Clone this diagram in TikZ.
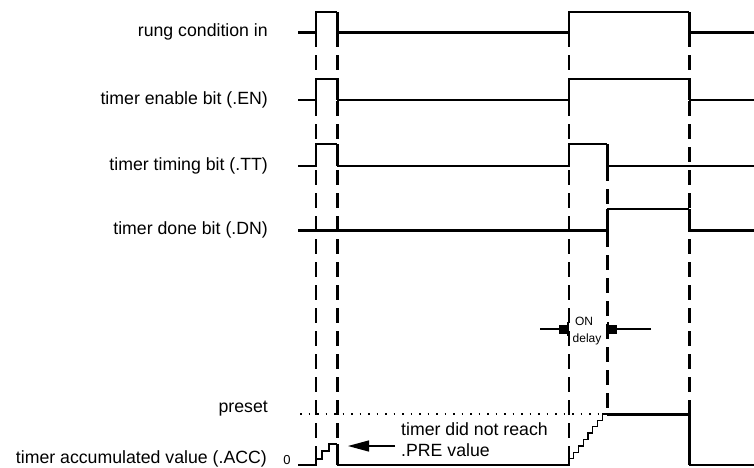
\documentclass[tikz,border=0pt]{standalone}
\usepackage{fontspec}
\setmainfont{Liberation Sans}
\usetikzlibrary{arrows.meta}
\begin{document}
\begin{tikzpicture}[x=1pt,y=-1pt,
  thinsig/.style={line width=1.3pt},
  thicksig/.style={line width=3pt},
  lbl/.style={anchor=base east, inner sep=0pt, font=\fontsize{17.7}{20}\selectfont},
  msg/.style={anchor=base west, inner sep=0pt, font=\fontsize{17.7}{20}\selectfont},
  small/.style={anchor=base, inner sep=0pt, font=\fontsize{12}{13}\selectfont},
  thindash/.style={line width=1.3pt, dash pattern=on 15pt off 8pt},
  thickdash/.style={line width=3pt, dash pattern=on 15pt off 8pt},
  ontip/.style={thinsig, -{Rectangle[length=8pt,width=9pt] Bar[width=14pt,line width=2pt]}},
]
\useasboundingbox[fill=white] (0,0) rectangle (754,467);

% labels
\node[lbl] (rung) at (268,36.5) {rung condition in};
\node[lbl] (en) at (268,104.5) {timer enable bit (.EN)};
\node[lbl] (tt) at (268,170.5) {timer timing bit (.TT)};
\node[lbl] (dn) at (268,234.5) {timer done bit (.DN)};
\node[lbl] (pre) at (268,412) {preset};
\node[lbl] (acc) at (267,463) {timer accumulated value (.ACC)};
\node[small, font=\fontsize{13}{14}\selectfont] (zero) at (287,464) {0};

% rung condition in
\draw[thicksig] (298,32) -- (316,32);
\draw[thinsig] (316,32) -- (316,12) -- (337,12);
\draw[thicksig] (337,12) -- (337,32) -- (569,32);
\draw[thinsig] (569,32) -- (569,12) -- (689,12);
\draw[thicksig] (689,12) -- (689,32) -- (754,32);

% enable
\draw[thinsig] (298,100) -- (316,100) -- (316,79) -- (337,79);
\draw[thicksig] (337,79) -- (337,100);
\draw[thinsig] (337,100) -- (569,100) -- (569,79) -- (689,79);
\draw[thicksig] (689,79) -- (689,100);
\draw[thinsig] (689,100) -- (754,100);

% timing
\draw[thinsig] (298,166) -- (316,166) -- (316,144) -- (337,144);
\draw[thicksig] (337,144) -- (337,166);
\draw[thinsig] (337,166) -- (569,166) -- (569,144) -- (607,144);
\draw[thicksig] (607,144) -- (607,166);
\draw[thinsig] (607,166) -- (754,166);

% done
\draw[thicksig] (298,230) -- (607,230);
\draw[thicksig] (607,231.5) -- (607,209);
\draw[thinsig] (607,209) -- (689,209);
\draw[thicksig] (689,209) -- (689,230) -- (754,230);

% dashed verticals
\draw[thindash] (316,32) -- (316,459);
\draw[thickdash] (337,32) -- (337,444);
\draw[thindash] (569,32) -- (569,465);
\draw[thickdash] (607,166) -- (607,209);
\draw[thickdash] (607,232) -- (607,414);
\draw[thickdash] (689,32) -- (689,414);

% preset dotted
\draw[line width=1.2pt, dash pattern=on 1.5pt off 7pt] (300,414) -- (602,414);

% accumulated value
\draw[thinsig] (298,465) -- (316,465) -- (316,459) -- (322,459) -- (322,451) -- (329,451) -- (329,444) -- (337,444);
\draw[thicksig] (337,444) -- (337,465);
\draw[thinsig] (337,465) -- (569,465) -- (569,458.6) -- (573.75,458.6) -- (573.75,452.25) -- (578.5,452.25) -- (578.5,445.9) -- (583.25,445.9) -- (583.25,439.5) -- (588,439.5) -- (588,433.1) -- (592.75,433.1) -- (592.75,426.75) -- (597.5,426.75) -- (597.5,420.4) -- (602.25,420.4) -- (602.25,414) -- (607,414);
\draw[thicksig] (607,414) -- (689,414) -- (689,465);
\draw[thinsig] (689,465) -- (754,465);

% ON delay
\coordinate (onL) at (540,329);
\coordinate (onLe) at (569,329);
\coordinate (onR) at (651,329);
\coordinate (onRe) at (607,329);
\draw[ontip] (onL) -- (onLe);
\draw[ontip] (onR) -- (onRe);
\node[small] (on) at (584,325) {ON};
\node[small] (delay) at (587,342) {delay};

% not reached message
\node[msg] (msg1) at (401,435) {timer did not reach};
\node[msg] (msg2) at (401,456) {.PRE value};
\coordinate (arrS) at (395,446);
\coordinate (arrE) at (348,446);
\draw[thinsig, -{Triangle[length=21pt,width=11pt]}] (arrS) -- (arrE);
\end{tikzpicture}
\end{document}
